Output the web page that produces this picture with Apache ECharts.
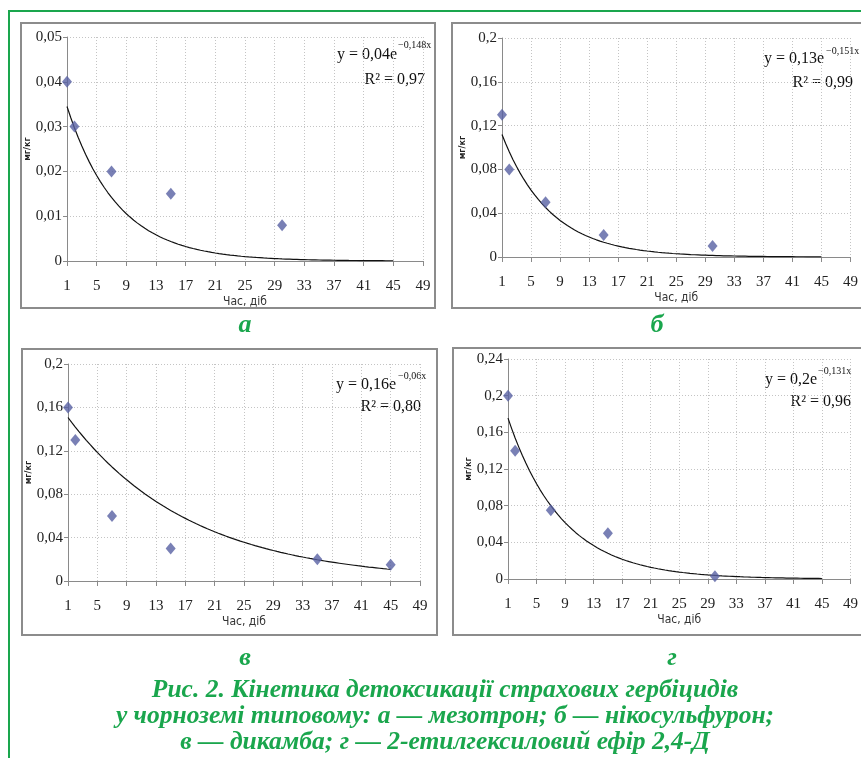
<!DOCTYPE html>
<html>
<head>
<meta charset="utf-8">
<script src="https://cdn.jsdelivr.net/npm/echarts@6/dist/echarts.min.js"></script>
<style>
  html, body { margin: 0; padding: 0; background: #fff; }
  #chart { width: 861px; height: 758px; }
</style>
</head>
<body>
<div id="chart"></div>
<script>
// дні відбору зразків та залишки гербіцидів, мг/кг
const daysA = [1, 2, 7, 15, 30];
const valuesA = [0.04, 0.03, 0.02, 0.015, 0.008];
const daysB = [1, 2, 7, 15, 30];
const valuesB = [0.13, 0.08, 0.05, 0.02, 0.01];
const daysC = [1, 2, 7, 15, 35, 45];
const valuesC = [0.16, 0.13, 0.06, 0.03, 0.02, 0.015];
const daysD = [1, 2, 7, 15, 30];
const valuesD = [0.2, 0.14, 0.075, 0.05, 0.003];

// параметри експоненційних трендів y = k * e^(r*x)
const fitA = [0.04, -0.148];
const fitB = [0.13, -0.151];
const fitC = [0.16, -0.06];
const fitD = [0.2, -0.131];
const trendRange = [1, 45];

// підписи осей
const yMaxes = [0.05, 0.2, 0.2, 0.24];
const ySteps = [0.01, 0.04, 0.04, 0.04];
const eqMain = ['y = 0,04e', 'y = 0,13e', 'y = 0,16e', 'y = 0,2e'];
const eqPower = ['\u22120,148x', '\u22120,151x', '\u22120,06x', '\u22120,131x'];
const eqR2 = ['R\u00b2 = 0,97', 'R\u00b2 = 0,99', 'R\u00b2 = 0,80', 'R\u00b2 = 0,96'];
const panelLetters = ['а', 'б', 'в', 'г'];
const caption = [
  'Рис. 2. Кінетика детоксикації страхових гербіцидів',
  'у чорноземі типовому: а — мезотрон; б — нікосульфурон;',
  'в — дикамба; г — 2-етилгексиловий ефір 2,4-Д'
];

const GREEN = '#1aa64d';
const serif = '"Liberation Serif", "DejaVu Serif", serif';
const narrow = '"Liberation Sans Narrow", "DejaVu Sans Condensed", "Liberation Sans", sans-serif';

function trend(fit) {
  const pts = [];
  for (let x = trendRange[0]; x <= trendRange[1]; x += 0.5) {
    pts.push([x, fit[0] * Math.exp(fit[1] * x)]);
  }
  return pts;
}

function pairs(xs, ys) {
  return xs.map((x, i) => [x, ys[i]]);
}

const grids = [
  { left: 67, top: 37, width: 356, height: 224 },
  { left: 502, top: 38, width: 355, height: 219 },
  { left: 68, top: 364, width: 352, height: 217 },
  { left: 508, top: 359, width: 347, height: 220 }
];

const xAxes = grids.map((g, i) => ({
  type: 'value',
  gridIndex: i,
  min: 1,
  max: 49,
  interval: 4,
  name: 'Час, діб',
  nameLocation: 'middle',
  nameGap: 35,
  nameTextStyle: { fontFamily: narrow, fontSize: 12, color: '#333' },
  axisLine: { show: true, lineStyle: { color: '#8a8a8a', width: 1 } },
  axisTick: { show: true, length: 5, lineStyle: { color: '#8a8a8a' } },
  axisLabel: {
    margin: 18,
    fontFamily: serif,
    fontSize: 15,
    color: '#222'
  },
  splitLine: { show: true, lineStyle: { color: '#c4c4c4', type: [1, 2], width: 1 } }
}));

const yAxes = grids.map((g, i) => ({
  type: 'value',
  gridIndex: i,
  min: 0,
  max: yMaxes[i],
  interval: ySteps[i],
  name: 'мг/кг',
  nameLocation: 'middle',
  nameGap: 29,
  nameRotate: 90,
  nameTextStyle: { fontFamily: '"DejaVu Sans Condensed", "DejaVu Sans", sans-serif', fontWeight: 'bold', fontSize: 9, color: '#222' },
  axisLine: { show: true, lineStyle: { color: '#8a8a8a', width: 1 } },
  axisTick: { show: true, length: 4, lineStyle: { color: '#8a8a8a' } },
  axisLabel: {
    margin: 5,
    fontFamily: serif,
    fontSize: 15,
    color: '#222',
    formatter: v => String(+v.toFixed(3)).replace('.', ',')
  },
  splitLine: { show: true, lineStyle: { color: '#c4c4c4', type: [1, 2], width: 1 } }
}));

const points = [pairs(daysA, valuesA), pairs(daysB, valuesB), pairs(daysC, valuesC), pairs(daysD, valuesD)];
const fits = [fitA, fitB, fitC, fitD];

const series = [];
points.forEach((p, i) => {
  series.push({
    type: 'line',
    xAxisIndex: i,
    yAxisIndex: i,
    data: trend(fits[i]),
    showSymbol: false,
    smooth: false,
    lineStyle: { color: '#111', width: 1.2 },
    z: 2
  });
  series.push({
    type: 'scatter',
    xAxisIndex: i,
    yAxisIndex: i,
    data: p,
    symbol: 'diamond',
    symbolSize: [10, 12],
    itemStyle: { color: '#5860a2' },
    z: 3
  });
});

// рамки панелей, рівняння, підписи
const boxes = [
  { x: 21, y: 23, width: 414, height: 285 },
  { x: 452, y: 23, width: 420, height: 285 },
  { x: 22, y: 349, width: 415, height: 286 },
  { x: 453, y: 348, width: 420, height: 287 }
];
const eqPos = [
  { main: [397, 55], pow: [398, 45], r2: [425, 80] },
  { main: [824, 59], pow: [826, 51], r2: [853, 83] },
  { main: [396, 385], pow: [398, 376], r2: [421, 407] },
  { main: [817, 380], pow: [818, 371], r2: [851, 402] }
];
const letterPos = [[245, 325], [657, 325], [245, 658], [672, 658]];

const graphic = [
  { type: 'line', shape: { x1: 9, y1: 11, x2: 861, y2: 11 }, style: { stroke: GREEN, lineWidth: 2 } },
  { type: 'line', shape: { x1: 9, y1: 10, x2: 9, y2: 758 }, style: { stroke: GREEN, lineWidth: 2 } }
];
boxes.forEach(b => {
  graphic.push({ type: 'rect', shape: b, style: { fill: null, stroke: '#8c8c8c', lineWidth: 2 }, z: -1 });
});
eqPos.forEach((p, i) => {
  graphic.push({ type: 'text', x: p.main[0], y: p.main[1], style: { text: eqMain[i], font: '16px ' + serif, fill: '#111', align: 'right', verticalAlign: 'middle' } });
  graphic.push({ type: 'text', x: p.pow[0], y: p.pow[1], style: { text: eqPower[i], font: '10px ' + serif, fill: '#111', align: 'left', verticalAlign: 'middle' } });
  graphic.push({ type: 'text', x: p.r2[0], y: p.r2[1], style: { text: eqR2[i], font: '16px ' + serif, fill: '#111', align: 'right', verticalAlign: 'middle' } });
});
letterPos.forEach((p, i) => {
  graphic.push({ type: 'text', x: p[0], y: p[1], style: { text: panelLetters[i], font: 'italic bold 26px ' + serif, fill: GREEN, align: 'center', verticalAlign: 'middle' } });
});
caption.forEach((line, i) => {
  graphic.push({ type: 'text', x: 445, y: 690 + i * 26, style: { text: line, font: 'italic bold 25.5px ' + serif, fill: GREEN, align: 'center', verticalAlign: 'middle' } });
});

const chart = echarts.init(document.getElementById('chart'));
chart.setOption({
  animation: false,
  backgroundColor: '#fff',
  grid: grids,
  xAxis: xAxes,
  yAxis: yAxes,
  series: series,
  graphic: graphic
});
</script>
</body>
</html>
